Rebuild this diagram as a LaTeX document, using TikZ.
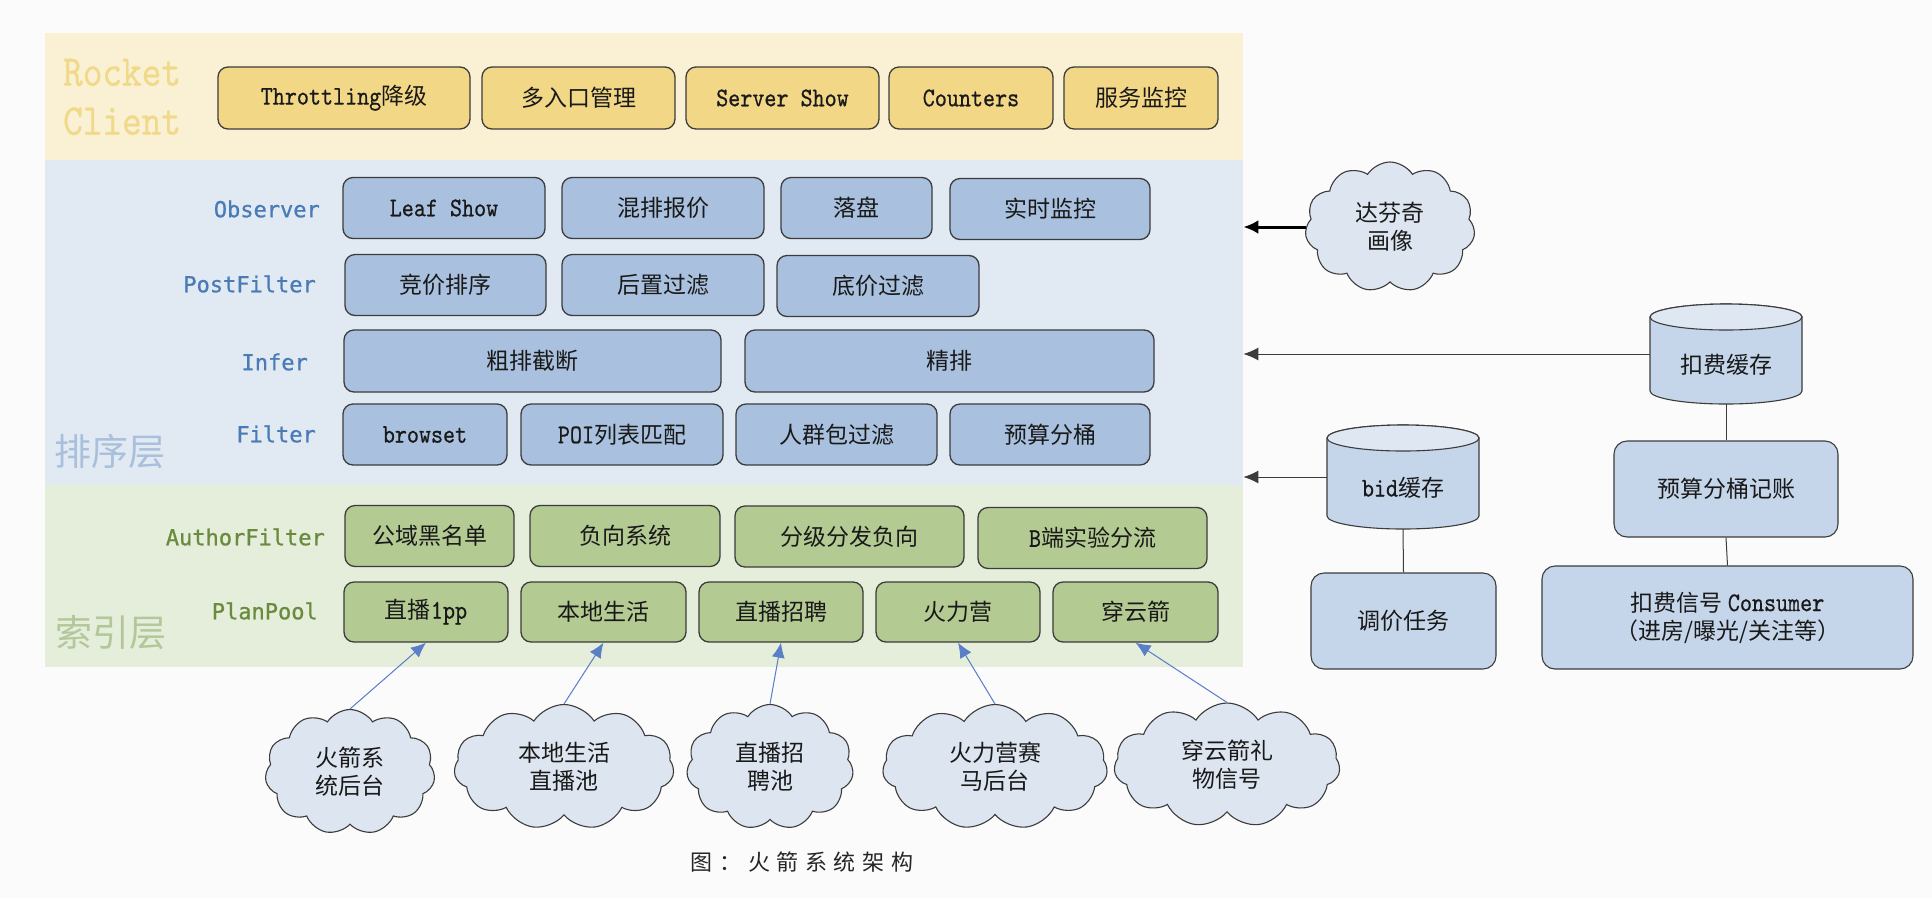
\documentclass[tikz,border=0pt]{standalone}
\usepackage{fontspec}
\usetikzlibrary{shapes.symbols,arrows.meta}
\newfontfamily\cjk{Noto Sans CJK SC}
\newfontfamily\labfont[FakeBold=0.8]{DejaVu Sans Mono}
\newfontfamily\latmono[FakeStretch=0.85,FakeBold=0.6]{lmmono10-regular.otf}
\newfontfamily\titmono[FakeStretch=0.85,FakeBold=0.4]{lmmono10-regular.otf}
\newfontfamily\capfont[LetterSpace=30]{Noto Sans CJK SC}
% Latin runs inside the boxes: a tall, narrow serif mono
\newcommand\mono[1]{{\latmono\fontsize{27}{28}\selectfont #1}}

\definecolor{bgpage}{HTML}{FBFBFC}
\definecolor{bandY}{HTML}{FAF0D4}
\definecolor{bandB}{HTML}{E1E9F3}
\definecolor{bandG}{HTML}{E5EDDB}
\definecolor{boxY}{HTML}{F2D786}
\definecolor{boxB}{HTML}{A9C0DE}
\definecolor{boxG}{HTML}{B4CA93}
\definecolor{sideB}{HTML}{C5D6EA}
\definecolor{cylTop}{HTML}{DEE7F2}
\definecolor{cloudF}{HTML}{DDE5F0}
\definecolor{labB}{HTML}{4A7BB7}
\definecolor{labG}{HTML}{6A8A3E}
\definecolor{titY}{HTML}{F1D98A}
\definecolor{titB}{HTML}{A9BFDC}
\definecolor{titG}{HTML}{B3C89A}
\definecolor{arrB}{HTML}{5B7FC7}
\definecolor{edge}{HTML}{3C3C3C}

\tikzset{
  band/.style={inner sep=0, anchor=north west, draw=none},
  box/.style={draw=edge, line width=1.3pt, rounded corners=10pt, inner sep=0,
    text=black!90, font=\cjk\fontsize{23}{28}\selectfont, align=center},
  ybox/.style={box, fill=boxY},
  bbox/.style={box, fill=boxB},
  gbox/.style={box, fill=boxG},
  sbox/.style={box, fill=sideB, rounded corners=13pt, line width=1.1pt},
  rowlab/.style={anchor=east, inner sep=0, font=\labfont\fontsize{22}{26}\selectfont},
  cloudnode/.style={cloud, cloud puffs=11, cloud puff arc=115, cloud ignores aspect,
    draw=edge, line width=1.1pt, fill=cloudF, inner sep=0, align=center,
    font=\cjk\fontsize{23}{28}\selectfont, text=black!90},
  cylbody/.style={fill=sideB, draw=edge, line width=1.1pt},
  cyltop/.style={fill=cylTop, draw=edge, line width=1.1pt},
  cylnode/.style={inner sep=0, font=\cjk\fontsize{23}{28}\selectfont, text=black!90,
    text height=39pt, text depth=0pt},
  feed/.style={-{Latex[length=15pt,width=13pt]}, draw=arrB, fill=arrB, line width=1pt},
  tobig/.style={-{Latex[length=15pt,width=14pt]}, draw=black, line width=3pt},
  tothin/.style={-{Latex[length=15pt,width=13pt]}, draw=edge, line width=1pt},
  conn/.style={draw=edge, line width=1pt},
}

% cylinder: name, cx, cy, width, height, text
\newcommand\dbcyl[6]{%
  \path[cylbody] (#2-#4/2,#3-#5/2+13) -- (#2-#4/2,#3+#5/2-13)
    arc[start angle=180,end angle=360,x radius=#4/2*1pt,y radius=13pt]
    -- (#2+#4/2,#3-#5/2+13)
    arc[start angle=0,end angle=180,x radius=#4/2*1pt,y radius=13pt] -- cycle;
  \path[cyltop] (#2,#3-#5/2+13) ellipse[x radius=#4/2*1pt, y radius=13pt];
  \node[cylnode, minimum width=#4pt, minimum height=#5pt] (#1) at (#2,#3) {#6};%
}

\begin{document}
\begin{tikzpicture}[x=1pt,y=-1pt]
\useasboundingbox (0,0) rectangle (1932,898);
\fill[bgpage] (0,0) rectangle (1932,898);

% layer bands
\node[band, fill=bandY, minimum width=1198pt, minimum height=127pt] (clientband) at (45,33) {};
\node[band, fill=bandB, minimum width=1198pt, minimum height=325pt] (rankband) at (45,160) {};
\node[band, fill=bandG, minimum width=1198pt, minimum height=182pt] (indexband) at (45,485) {};

% band titles
\node[anchor=west, inner sep=0, align=left, text=titY,
      font=\titmono\fontsize{44}{49}\selectfont] (tclient) at (63,97) {Rocket\\Client};
\node[anchor=west, inner sep=0, text=titB, font=\cjk\fontsize{37}{40}\selectfont] (trank) at (54,452) {排序层};
\node[anchor=west, inner sep=0, text=titG, font=\cjk\fontsize{37}{40}\selectfont] (tindex) at (55,633) {索引层};

% Rocket Client row
\node[ybox, minimum width=252pt, minimum height=62pt] (t1) at (344,98) {\mono{Throttling}降级};
\node[ybox, minimum width=193pt, minimum height=62pt] (t2) at (578.5,98) {多入口管理};
\node[ybox, minimum width=193pt, minimum height=62pt] (t3) at (782.5,98) {\mono{Server Show}};
\node[ybox, minimum width=164pt, minimum height=62pt] (t4) at (971,98) {\mono{Counters}};
\node[ybox, minimum width=154pt, minimum height=62pt] (t5) at (1141,98) {服务监控};

% ranking layer rows
\node[rowlab, text=labB] (lobs) at (320,209) {Observer};
\node[rowlab, text=labB] (lpost) at (316,284) {PostFilter};
\node[rowlab, text=labB] (linf) at (308,362) {Infer};
\node[rowlab, text=labB] (lfil) at (316,434) {Filter};

\node[bbox, minimum width=202pt, minimum height=61pt] (o1) at (444,208) {\mono{Leaf Show}};
\node[bbox, minimum width=202pt, minimum height=61pt] (o2) at (663,208) {混排报价};
\node[bbox, minimum width=151pt, minimum height=61pt] (o3) at (856.5,208) {落盘};
\node[bbox, minimum width=200pt, minimum height=61pt] (o4) at (1050,209) {实时监控};

\node[bbox, minimum width=201pt, minimum height=61pt] (p1) at (445.5,285) {竞价排序};
\node[bbox, minimum width=202pt, minimum height=61pt] (p2) at (663,285) {后置过滤};
\node[bbox, minimum width=202pt, minimum height=61pt] (p3) at (878,286) {底价过滤};

\node[bbox, minimum width=377pt, minimum height=62pt] (i1) at (532.5,361) {粗排截断};
\node[bbox, minimum width=409pt, minimum height=62pt] (i2) at (949.5,361) {精排};

\node[bbox, minimum width=164pt, minimum height=61pt] (f1) at (425,434.5) {\mono{browset}};
\node[bbox, minimum width=202pt, minimum height=61pt] (f2) at (622,434.5) {\mono{POI}列表匹配};
\node[bbox, minimum width=201pt, minimum height=61pt] (f3) at (836.5,434.5) {人群包过滤};
\node[bbox, minimum width=200pt, minimum height=61pt] (f4) at (1050,434.5) {预算分桶};

% index layer rows
\node[rowlab, text=labG] (laut) at (325,537) {AuthorFilter};
\node[rowlab, text=labG] (lplan) at (318,611) {PlanPool};

\node[gbox, minimum width=169pt, minimum height=61pt] (a1) at (429.5,536) {公域黑名单};
\node[gbox, minimum width=190pt, minimum height=61pt] (a2) at (625,536) {负向系统};
\node[gbox, minimum width=229pt, minimum height=61pt] (a3) at (849.5,536.5) {分级分发负向};
\node[gbox, minimum width=229pt, minimum height=61pt] (a4) at (1092.5,538) {\mono{B}端实验分流};

\node[gbox, minimum width=164pt, minimum height=60pt] (pp1) at (426,612) {直播\mono{1pp}};
\node[gbox, minimum width=165pt, minimum height=60pt] (pp2) at (603.5,612) {本地生活};
\node[gbox, minimum width=164pt, minimum height=60pt] (pp3) at (781,612) {直播招聘};
\node[gbox, minimum width=164pt, minimum height=60pt] (pp4) at (958,612) {火力营};
\node[gbox, minimum width=165pt, minimum height=60pt] (pp5) at (1135.5,612) {穿云箭};

% data source clouds
\node[cloudnode, minimum width=170pt, minimum height=125pt] (c1) at (350,772) {火箭系\\统后台};
\node[cloudnode, minimum width=220pt, minimum height=125pt] (c2) at (564,767) {本地生活\\直播池};
\node[cloudnode, minimum width=167pt, minimum height=125pt] (c3) at (770,767) {直播招\\聘池};
\node[cloudnode, minimum width=225pt, minimum height=125pt] (c4) at (995,767) {火力营赛\\马后台};
\node[cloudnode, minimum width=226pt, minimum height=124pt] (c5) at (1227,765) {穿云箭礼\\物信号};

\draw[feed] (c1.north) -- (pp1.south);
\draw[feed] (c2.north) -- (pp2.south);
\draw[feed] (c3.north) -- (pp3.south);
\draw[feed] (c4.north) -- (pp4.south);
\draw[feed] (c5.north) -- (pp5.south);

% right-hand services
\node[cloudnode, minimum width=170pt, minimum height=130pt] (dfq) at (1390,227) {达芬奇\\画像};
\dbcyl{kf}{1726}{354}{152}{100}{扣费缓存}
\dbcyl{bid}{1403}{477}{152}{104}{\mono{bid}缓存}
\node[sbox, minimum width=185pt, minimum height=96pt] (tj) at (1403.5,621) {调价任务};
\node[sbox, minimum width=224pt, minimum height=96pt] (ys) at (1726,489) {预算分桶记账};
\node[sbox, minimum width=371pt, minimum height=103pt] (cons) at (1727.5,617.5)
  {扣费信号 \mono{Consumer}\\（进房/曝光/关注等）};

\draw[tobig] (dfq.west) -- (dfq.west -| rankband.east);
\draw[tothin] (kf.west) -- (kf.west -| rankband.east);
\draw[tothin] (bid.west) -- (bid.west -| rankband.east);
\draw[conn] (bid.south) -- (tj.north);
\draw[conn] (kf.south) -- (ys.north);
\draw[conn] (ys.south) -- (cons.north);

% caption
\node[inner sep=0, font=\capfont\fontsize{22}{26}\selectfont, text=black!85] (cap) at (802,862) {图：火箭系统架构};
\end{tikzpicture}
\end{document}
